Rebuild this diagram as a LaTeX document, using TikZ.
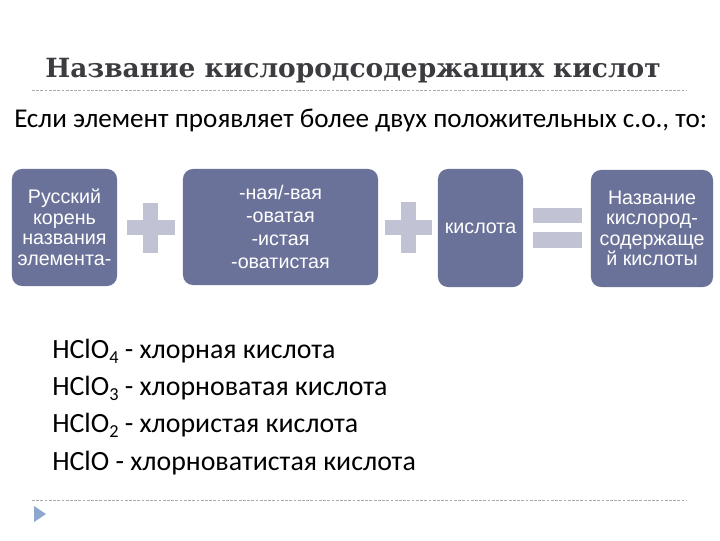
\documentclass[tikz,border=0pt]{standalone}
\usepackage{fontspec}
\setmainfont{Carlito}
\newfontfamily\titlefont{DejaVu Serif}
\newfontfamily\boxfont{Liberation Sans}
\definecolor{boxblue}{RGB}{107,114,153}
\definecolor{signgray}{RGB}{193,194,211}
\definecolor{titlegray}{RGB}{60,60,64}
\definecolor{rulegray}{RGB}{170,170,175}
\definecolor{bulletblue}{RGB}{140,168,206}
\newcommand{\chemidx}[1]{\raisebox{-0.45ex}{\fontsize{13pt}{13pt}\selectfont #1}}
\tikzset{
  part/.style={fill=boxblue, rounded corners=0.25cm, text=white, align=center,
    inner sep=0pt, font=\boxfont\fontsize{14pt}{14.6pt}\selectfont},
  sign/.style={fill=signgray, draw=none},
  rule/.style={rulegray, dashed, dash pattern=on 2pt off 1pt, line width=0.5pt},
  rowtext/.style={anchor=base west, inner sep=0pt, font=\fontsize{19.8pt}{24pt}\selectfont}
}
\begin{document}
\begin{tikzpicture}[x=0.025cm, y=-0.025cm]
\useasboundingbox (0,0) rectangle (720,540);
\node[anchor=base west, inner sep=0pt, text=titlegray, font=\titlefont\bfseries\fontsize{18.8pt}{22pt}\selectfont] (title) at (45,77) {Название кислородсодержащих кислот};
\draw[rule] (32,90) -- (687,90);
\node[anchor=base west, inner sep=0pt, font=\fontsize{19.3pt}{23pt}\selectfont] (cond) at (14,127) {Если элемент проявляет более двух положительных с.о., то:};
% schema
\node[part, minimum width=2.625cm, minimum height=2.925cm] (root) at (64.5,227.5) {Русский\\корень\\названия\\элемента-};
\node[part, minimum width=4.875cm, minimum height=2.9cm, font=\boxfont\fontsize{14pt}{16.3pt}\selectfont] (suffix) at (280.5,227) {-ная/-вая\\-оватая\\-истая\\-оватистая};
\node[part, minimum width=2.125cm, minimum height=2.95cm] (acid) at (480.5,228) {кислота};
\node[part, minimum width=3.05cm, minimum height=2.925cm] (result) at (652,228.5) {Название\\кислород-\\содержаще\\й кислоты};
\fill[sign] (143,203) rectangle (158,253);
\fill[sign] (127,220) rectangle (175,235);
\fill[sign] (401,202) rectangle (416,253);
\fill[sign] (385,220) rectangle (432,235);
\fill[sign] (533,208) rectangle (582,223);
\fill[sign] (533,232) rectangle (582,248);
% examples
\node[rowtext] (perchloric) at (52,358) {HClO\chemidx{4} - хлорная кислота};
\node[rowtext] (chloric) at (52,395) {HClO\chemidx{3} - хлорноватая кислота};
\node[rowtext] (chlorous) at (52,432) {HClO\chemidx{2} - хлористая кислота};
\node[rowtext] (hypochlorous) at (52,470) {HClO - хлорноватистая кислота};
\draw[rule] (32,500) -- (687,500);
\fill[bulletblue] (34,506) -- (46,514) -- (34,522) -- cycle;
\end{tikzpicture}
\end{document}
